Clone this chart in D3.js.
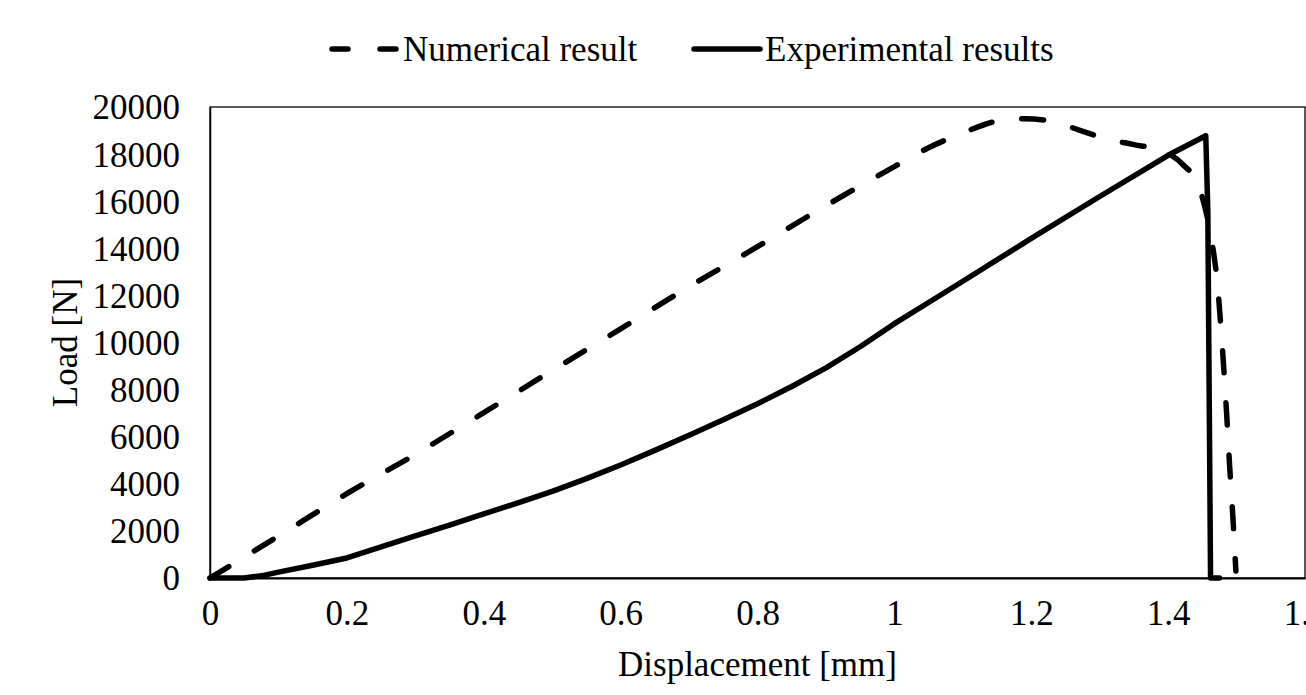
<!DOCTYPE html>
<html>
<head>
<meta charset="utf-8">
<script src="https://cdnjs.cloudflare.com/ajax/libs/d3/7.8.5/d3.min.js"></script>
<style>
  body { margin: 0; background: #fff; }
  svg { display: block; font-family: "Liberation Serif", "Times New Roman", serif; }
</style>
</head>
<body>
<div class="container"></div>
<script>
// displacement [mm] / load [N]
const numX = [0, 0.1, 0.2, 0.3, 0.4, 0.5, 0.6, 0.7, 0.8, 0.9, 1.0, 1.05, 1.1, 1.15, 1.19, 1.23, 1.27, 1.31, 1.35, 1.39, 1.42, 1.445, 1.455, 1.465, 1.472, 1.478, 1.484, 1.49, 1.495, 1.499];
const numY = [0, 1780, 3580, 5250, 7020, 8810, 10580, 12370, 14070, 15810, 17470, 18270, 18900, 19400, 19500, 19400, 19020, 18650, 18400, 18150, 17600, 16600, 15600, 14100, 12500, 10300, 7700, 4700, 2400, 300];

const expX = [0, 0.05, 0.08, 0.1, 0.15, 0.2, 0.25, 0.3, 0.35, 0.4, 0.45, 0.5, 0.55, 0.6, 0.65, 0.7, 0.75, 0.8, 0.85, 0.9, 0.95, 1.0, 1.05, 1.1, 1.2, 1.3, 1.4, 1.455, 1.458, 1.462, 1.475];
const expY = [0, 0, 120, 250, 540, 850, 1320, 1790, 2250, 2720, 3190, 3680, 4220, 4800, 5420, 6060, 6720, 7400, 8130, 8920, 9820, 10800, 11700, 12600, 14420, 16200, 17950, 18780, 15600, 0, 0];

const xTicks = [0, 0.2, 0.4, 0.6, 0.8, 1, 1.2, 1.4, 1.6];
const yTicks = [0, 2000, 4000, 6000, 8000, 10000, 12000, 14000, 16000, 18000, 20000];

const width = 1306;
const height = 695;
const margin = { top: 107, bottom: 117, left: 210, right: 1 };
const fontSize = 35;

const svg = d3.select(".container")
    .append("svg")
    .attr("width", width)
    .attr("height", height);

const x = d3.scaleLinear().domain([0, 1.6]).range([margin.left, width - margin.right]);
const y = d3.scaleLinear().domain([0, 20000]).range([height - margin.bottom, margin.top]);

// plot frame
svg.append("rect")
    .attr("x", x(0))
    .attr("y", y(20000))
    .attr("width", x(1.6) - x(0))
    .attr("height", y(0) - y(20000))
    .attr("fill", "none")
    .attr("stroke", "#000")
    .attr("stroke-width", 1.3);

// x axis
const xAxis = svg.append("g")
    .attr("transform", `translate(0,${y(0)})`)
    .call(d3.axisBottom(x).tickValues(xTicks).tickSize(0).tickPadding(40).tickFormat(d => d3.format("~g")(d)));
xAxis.select(".domain").attr("stroke", "#000").attr("stroke-width", 2);
xAxis.selectAll("text")
    .attr("font-size", fontSize)
    .attr("font-family", "Liberation Serif")
    .attr("fill", "#000")
    .attr("dy", "0.2em");

// y axis
const yAxis = svg.append("g")
    .attr("transform", `translate(${x(0)},0)`)
    .call(d3.axisLeft(y).tickValues(yTicks).tickSize(0).tickPadding(30).tickFormat(d3.format("d")));
yAxis.select(".domain").attr("stroke", "#000").attr("stroke-width", 1.5);
yAxis.selectAll("text")
    .attr("font-size", fontSize)
    .attr("font-family", "Liberation Serif")
    .attr("fill", "#000")
    .attr("dy", "0.34em");

// axis titles
svg.append("text")
    .attr("x", (x(0) + x(1.6)) / 2)
    .attr("y", 676)
    .attr("text-anchor", "middle")
    .attr("font-size", fontSize)
    .text("Displacement [mm]");

svg.append("text")
    .attr("transform", `translate(77,${(y(0) + y(20000)) / 2}) rotate(-90)`)
    .attr("text-anchor", "middle")
    .attr("font-size", fontSize)
    .text("Load [N]");

const numLine = d3.line()
    .x(d => x(d[0]))
    .y(d => y(d[1]))
    .curve(d3.curveMonotoneX);

const expLine = d3.line()
    .x(d => x(d[0]))
    .y(d => y(d[1]));

const numData = numX.map((d, i) => [d, numY[i]]);
const expData = expX.map((d, i) => [d, expY[i]]);

svg.append("path")
    .datum(expData)
    .attr("d", expLine)
    .attr("fill", "none")
    .attr("stroke", "#000")
    .attr("stroke-width", 5.5)
    .attr("stroke-linejoin", "round")
    .attr("stroke-linecap", "round");

svg.append("path")
    .datum(numData)
    .attr("d", numLine)
    .attr("fill", "none")
    .attr("stroke", "#000")
    .attr("stroke-width", 5.5)
    .attr("stroke-dasharray", "22,30")
    .attr("stroke-linecap", "round");

// legend
const legY = 49;
svg.append("line")
    .attr("x1", 332).attr("x2", 396)
    .attr("y1", legY).attr("y2", legY)
    .attr("stroke", "#000")
    .attr("stroke-width", 5.5)
    .attr("stroke-dasharray", "16,32")
    .attr("stroke-linecap", "round");
svg.append("text")
    .attr("x", 403)
    .attr("y", 61)
    .attr("font-size", fontSize)
    .text("Numerical result");

svg.append("line")
    .attr("x1", 694).attr("x2", 760)
    .attr("y1", legY).attr("y2", legY)
    .attr("stroke", "#000")
    .attr("stroke-width", 5.5)
    .attr("stroke-linecap", "round");
svg.append("text")
    .attr("x", 765)
    .attr("y", 61)
    .attr("font-size", fontSize)
    .text("Experimental results");
</script>
</body>
</html>
